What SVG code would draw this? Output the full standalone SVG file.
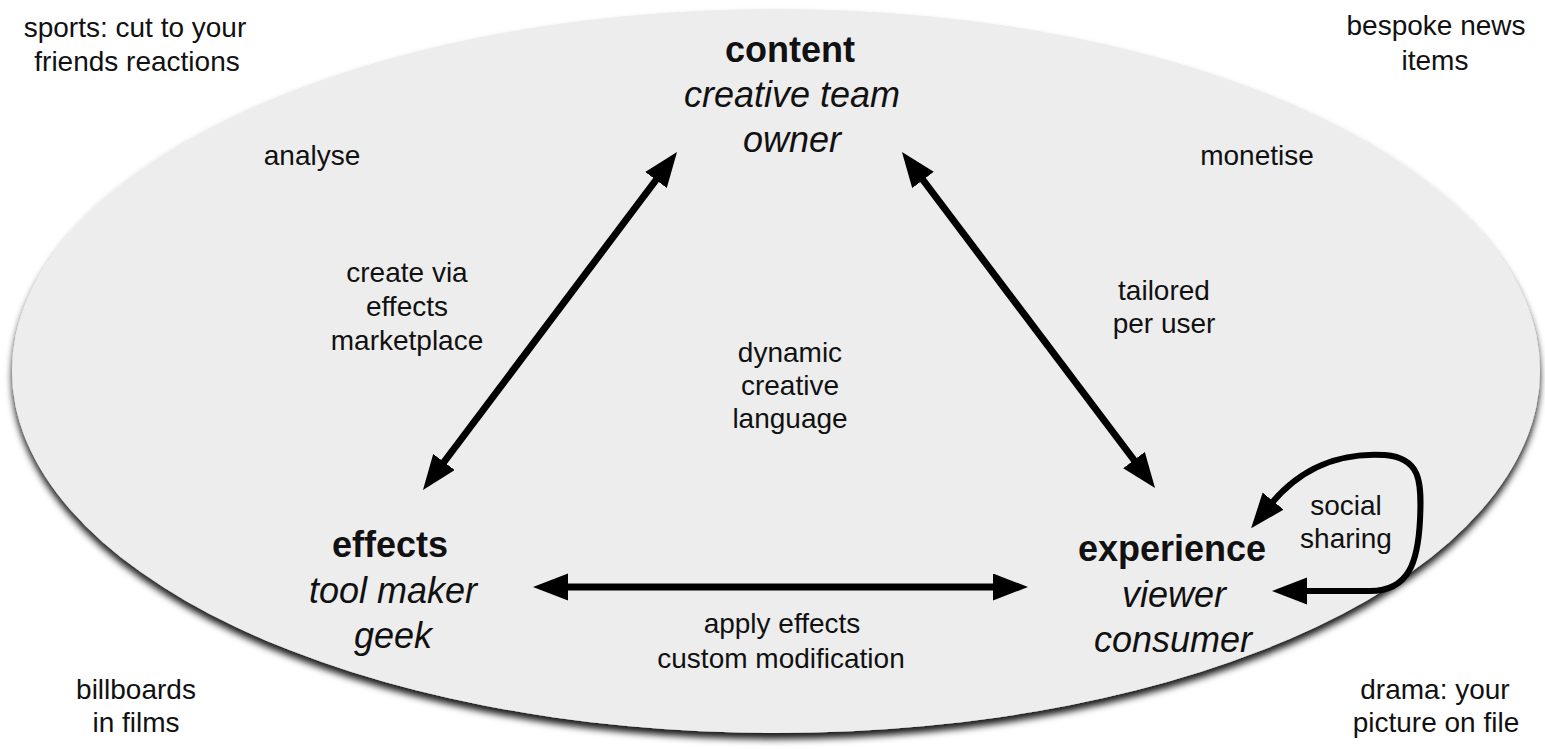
<svg xmlns="http://www.w3.org/2000/svg" width="1545" height="749" viewBox="0 0 1545 749">
<style>
text{font-family:"Liberation Sans",Arial,Helvetica,sans-serif;fill:#111;text-anchor:middle}
.s{font-size:28px}
.t{font-size:36px;font-weight:bold}
.i{font-size:36px;font-style:italic}
.c{fill:none;stroke:#000;stroke-width:7;marker-start:url(#ah);marker-end:url(#ah)}
.l{fill:none;stroke:#000;stroke-width:6;marker-start:url(#ah);marker-end:url(#ah)}
</style>
<defs>
<filter id="sh" x="-5%" y="-5%" width="110%" height="115%">
<feDropShadow dx="0" dy="6" stdDeviation="3.5" flood-color="#000" flood-opacity="0.9"/>
</filter>
<marker id="ah" markerUnits="userSpaceOnUse" markerWidth="36" markerHeight="28" refX="5" refY="13.5" orient="auto-start-reverse" viewBox="0 0 36 28">
<path d="M0,0 L35,13.5 L0,27 z" fill="#000"/>
</marker>
</defs>
<rect width="1545" height="749" fill="#fff"/>
<ellipse id="field" cx="776" cy="371" rx="764" ry="362" fill="#ededed" filter="url(#sh)"/>

<g id="connectors">
<path class="c" d="M441,466 L659,176"/>
<path class="c" d="M920,176 L1137,464"/>
<path class="c" d="M563,587 L998,587"/>
<path class="l" d="M1270,505 C1300,468 1340,452 1385,455 C1420,458 1422,480 1420,520 C1418,560 1410,591 1370,591 L1302,591"/>
</g>

<g id="node-content">
<text class="t" x="790" y="62">content</text>
<text class="i" x="792" y="107">creative team</text>
<text class="i" x="792" y="152">owner</text>
</g>
<g id="node-effects">
<text class="t" x="390" y="557">effects</text>
<text class="i" x="393" y="603">tool maker</text>
<text class="i" x="393" y="648">geek</text>
</g>
<g id="node-experience">
<text class="t" x="1172" y="561">experience</text>
<text class="i" x="1174" y="607">viewer</text>
<text class="i" x="1173" y="652">consumer</text>
</g>

<g id="labels">
<text class="s" x="407" y="282">create via</text>
<text class="s" x="407" y="316">effects</text>
<text class="s" x="407" y="350">marketplace</text>
<text class="s" x="1164" y="300">tailored</text>
<text class="s" x="1164" y="333">per user</text>
<text class="s" x="790" y="362">dynamic</text>
<text class="s" x="790" y="395">creative</text>
<text class="s" x="790" y="428">language</text>
<text class="s" x="782" y="633">apply effects</text>
<text class="s" x="781" y="668">custom modification</text>
<text class="s" x="1346" y="515">social</text>
<text class="s" x="1346" y="548">sharing</text>
<text class="s" x="312" y="165">analyse</text>
<text class="s" x="1257" y="165">monetise</text>
</g>

<g id="corners">
<text class="s" x="135" y="37">sports: cut to your</text>
<text class="s" x="137" y="71">friends reactions</text>
<text class="s" x="1436" y="35">bespoke news</text>
<text class="s" x="1435" y="70">items</text>
<text class="s" x="136" y="699">billboards</text>
<text class="s" x="136" y="732">in films</text>
<text class="s" x="1435" y="699">drama: your</text>
<text class="s" x="1436" y="732">picture on file</text>
</g>
</svg>
